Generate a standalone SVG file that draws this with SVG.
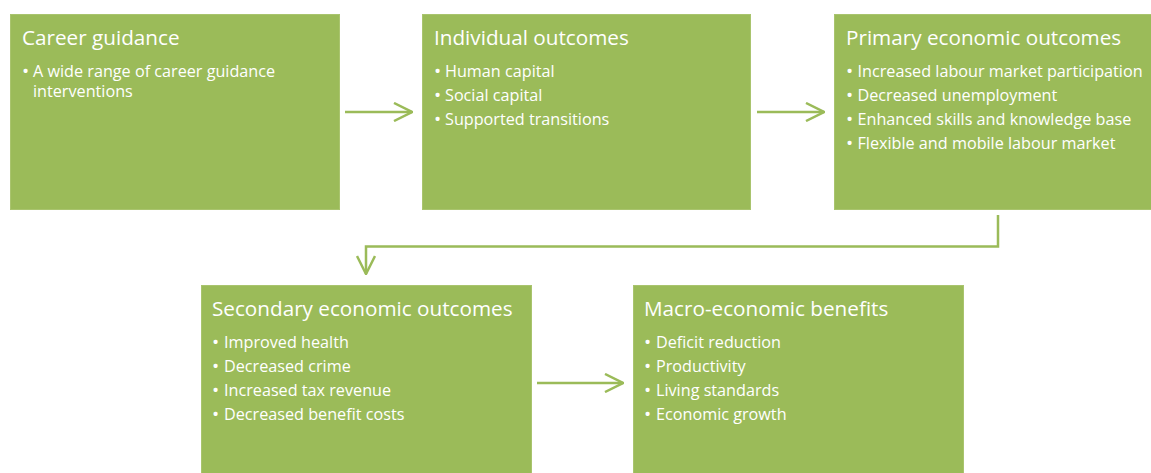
<svg xmlns="http://www.w3.org/2000/svg" width="1151" height="473" viewBox="0 0 1151 473">
<style>
.box{fill:#9BBB59;stroke:#A9C46E;stroke-width:1}
.t{font-family:"Open Sans","DejaVu Sans",sans-serif;fill:#FFFFFF;font-size:20.7px}
.b{font-family:"Open Sans","DejaVu Sans",sans-serif;fill:#FFFFFF;font-size:16.2px}
.d{font-family:"Open Sans","DejaVu Sans",sans-serif;fill:#FFFFFF;font-size:19px;text-anchor:middle}
.c{fill:none;stroke:#9BBB59;stroke-width:2.5;stroke-linecap:butt;stroke-linejoin:miter}
</style>
<defs>
<marker id="ah" viewBox="0 0 20 20" refX="19" refY="10" markerWidth="20" markerHeight="20" markerUnits="userSpaceOnUse" orient="auto">
<path d="M1,1 L19,10 L1,19" fill="none" stroke="#9BBB59" stroke-width="2.5"/>
</marker>
</defs>
<g id="connectors">
<path class="c" d="M345,112 H412" marker-end="url(#ah)"/>
<path class="c" d="M757,112 H824" marker-end="url(#ah)"/>
<path class="c" d="M998,215 V246.5 H366 V274" marker-end="url(#ah)"/>
<path class="c" d="M537,383 H623" marker-end="url(#ah)"/>
</g>
<g id="career-guidance">
<rect class="box" x="10.5" y="14.5" width="329" height="195"/>
<text class="t" x="22" y="45">Career guidance</text>
<text class="d" x="25.5" y="78">•</text>
<text class="b" x="33" y="77">A wide range of career guidance</text>
<text class="b" x="33" y="97">interventions</text>
</g>
<g id="individual-outcomes">
<rect class="box" x="422.5" y="14.5" width="328" height="195"/>
<text class="t" x="434" y="45">Individual outcomes</text>
<text class="d" x="437.5" y="78">•</text>
<text class="b" x="445" y="77">Human capital</text>
<text class="d" x="437.5" y="102">•</text>
<text class="b" x="445" y="101">Social capital</text>
<text class="d" x="437.5" y="126">•</text>
<text class="b" x="445" y="125">Supported transitions</text>
</g>
<g id="primary-economic-outcomes">
<rect class="box" x="834.5" y="14.5" width="320" height="195"/>
<text class="t" x="846" y="45">Primary economic outcomes</text>
<text class="d" x="849.5" y="78">•</text>
<text class="b" x="857.5" y="77">Increased labour market participation</text>
<text class="d" x="849.5" y="102">•</text>
<text class="b" x="857.5" y="101">Decreased unemployment</text>
<text class="d" x="849.5" y="126">•</text>
<text class="b" x="857.5" y="125">Enhanced skills and knowledge base</text>
<text class="d" x="849.5" y="150">•</text>
<text class="b" x="857.5" y="149">Flexible and mobile labour market</text>
</g>
<g id="secondary-economic-outcomes">
<rect class="box" x="201.5" y="285.5" width="330" height="195"/>
<text class="t" x="212" y="316">Secondary economic outcomes</text>
<text class="d" x="215.5" y="349">•</text>
<text class="b" x="224" y="348">Improved health</text>
<text class="d" x="215.5" y="373">•</text>
<text class="b" x="224" y="372">Decreased crime</text>
<text class="d" x="215.5" y="397">•</text>
<text class="b" x="224" y="396">Increased tax revenue</text>
<text class="d" x="215.5" y="421">•</text>
<text class="b" x="224" y="420">Decreased benefit costs</text>
</g>
<g id="macro-economic-benefits">
<rect class="box" x="633.5" y="285.5" width="330" height="195"/>
<text class="t" x="644" y="316">Macro-economic benefits</text>
<text class="d" x="647.5" y="349">•</text>
<text class="b" x="656" y="348">Deficit reduction</text>
<text class="d" x="647.5" y="373">•</text>
<text class="b" x="656" y="372">Productivity</text>
<text class="d" x="647.5" y="397">•</text>
<text class="b" x="656" y="396">Living standards</text>
<text class="d" x="647.5" y="421">•</text>
<text class="b" x="656" y="420">Economic growth</text>
</g>
</svg>
